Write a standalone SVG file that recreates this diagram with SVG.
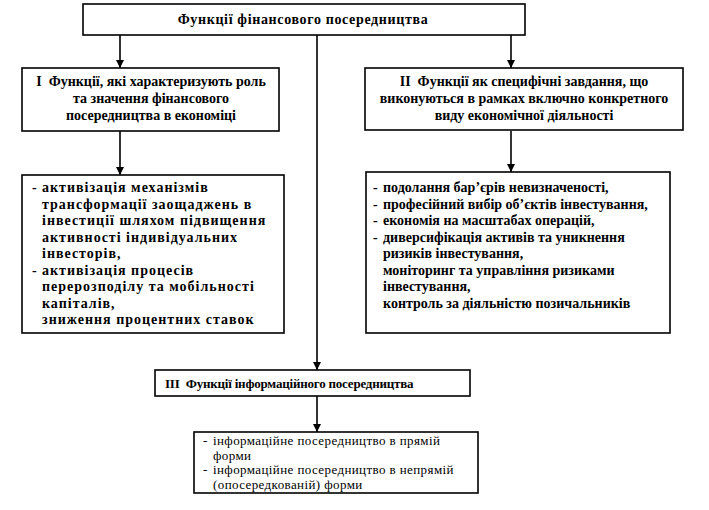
<svg xmlns="http://www.w3.org/2000/svg" width="709" height="510" viewBox="0 0 709 510">
<defs>
<marker id="arr" viewBox="0 0 10 10" refX="10" refY="5" markerWidth="8" markerHeight="8" markerUnits="userSpaceOnUse" orient="auto">
<path d="M0,0 L10,5 L0,10 z" fill="#000"/>
</marker>
<style>
.box{fill:#fff;stroke:#000;stroke-width:1.6}
.t{font-family:"Liberation Serif","DejaVu Serif",serif;font-size:14px;font-weight:bold;fill:#000}
.c{text-anchor:middle}
.w{letter-spacing:1px}
.s{font-family:"Liberation Serif","DejaVu Serif",serif;font-size:13px;letter-spacing:0.4px;fill:#000}
.ln{stroke:#000;stroke-width:1.6;fill:none}
</style>
</defs>
<rect width="709" height="510" fill="#fff"/>
<g id="connectors">
<line class="ln" x1="120" y1="35" x2="120" y2="68" marker-end="url(#arr)"/>
<line class="ln" x1="511" y1="35" x2="511" y2="68" marker-end="url(#arr)"/>
<line class="ln" x1="317" y1="35" x2="317" y2="370" marker-end="url(#arr)"/>
<line class="ln" x1="120" y1="131" x2="120" y2="175" marker-end="url(#arr)"/>
<line class="ln" x1="511" y1="131" x2="511" y2="172" marker-end="url(#arr)"/>
<line class="ln" x1="317" y1="396" x2="317" y2="432" marker-end="url(#arr)"/>
</g>
<g id="top">
<rect class="box" x="83" y="4" width="442" height="31"/>
<text class="t c" x="303" y="24" style="letter-spacing:0.65px">Функції фінансового посередництва</text>
</g>
<g id="f1">
<rect class="box" x="22" y="68" width="257" height="63"/>
<text class="t c" x="151" y="86">І&#160; Функції, які характеризують роль</text>
<text class="t c" x="151" y="103">та значення фінансового</text>
<text class="t c" x="151" y="120">посередництва в економіці</text>
</g>
<g id="f2">
<rect class="box" x="365" y="68" width="318" height="62"/>
<text class="t c" x="524" y="86">ІІ&#160; Функції як специфічні завдання, що</text>
<text class="t c" x="524" y="103">виконуються в рамках включно конкретного</text>
<text class="t c" x="524" y="120">виду економічної діяльності</text>
</g>
<g id="list1">
<rect class="box" x="22" y="175" width="262" height="158"/>
<text class="t" x="32" y="192">-</text>
<text class="t w" x="42" y="192">активізація механізмів</text>
<text class="t w" x="42" y="208.5">трансформації заощаджень в</text>
<text class="t w" x="42" y="225">інвестиції шляхом підвищення</text>
<text class="t w" x="42" y="241.5">активності індивідуальних</text>
<text class="t w" x="42" y="258">інвесторів,</text>
<text class="t" x="32" y="274.5">-</text>
<text class="t w" x="42" y="274.5">активізація процесів</text>
<text class="t w" x="42" y="291">перерозподілу та мобільності</text>
<text class="t w" x="42" y="307.5">капіталів,</text>
<text class="t w" x="42" y="324">зниження процентних ставок</text>
</g>
<g id="list2">
<rect class="box" x="366" y="172" width="304" height="161"/>
<text class="t" x="373" y="192">-</text>
<text class="t" x="383" y="192">подолання бар’єрів невизначеності,</text>
<text class="t" x="373" y="208.5">-</text>
<text class="t" x="383" y="208.5">професійний вибір об’єктів інвестування,</text>
<text class="t" x="373" y="225">-</text>
<text class="t" x="383" y="225">економія на масштабах операцій,</text>
<text class="t" x="373" y="241.5">-</text>
<text class="t" x="383" y="241.5">диверсифікація активів та уникнення</text>
<text class="t" x="383" y="258">ризиків інвестування,</text>
<text class="t" x="383" y="274.5">моніторинг та управління ризиками</text>
<text class="t" x="383" y="291">інвестування,</text>
<text class="t" x="383" y="307.5">контроль за діяльністю позичальників</text>
</g>
<g id="f3">
<rect class="box" x="155" y="370" width="315" height="26"/>
<text class="t" x="165" y="388" style="font-size:13px;letter-spacing:-0.2px">ІІІ&#160; Функції інформаційного посередництва</text>
</g>
<g id="list3">
<rect class="box" x="194" y="432" width="284" height="61"/>
<text class="s" x="203" y="445">-</text>
<text class="s" x="213" y="445">інформаційне посередництво в прямій</text>
<text class="s" x="213" y="459.5">форми</text>
<text class="s" x="203" y="474">-</text>
<text class="s" x="213" y="474">інформаційне посередництво в непрямій</text>
<text class="s" x="213" y="488.5">(опосередкованій) форми</text>
</g>
</svg>
